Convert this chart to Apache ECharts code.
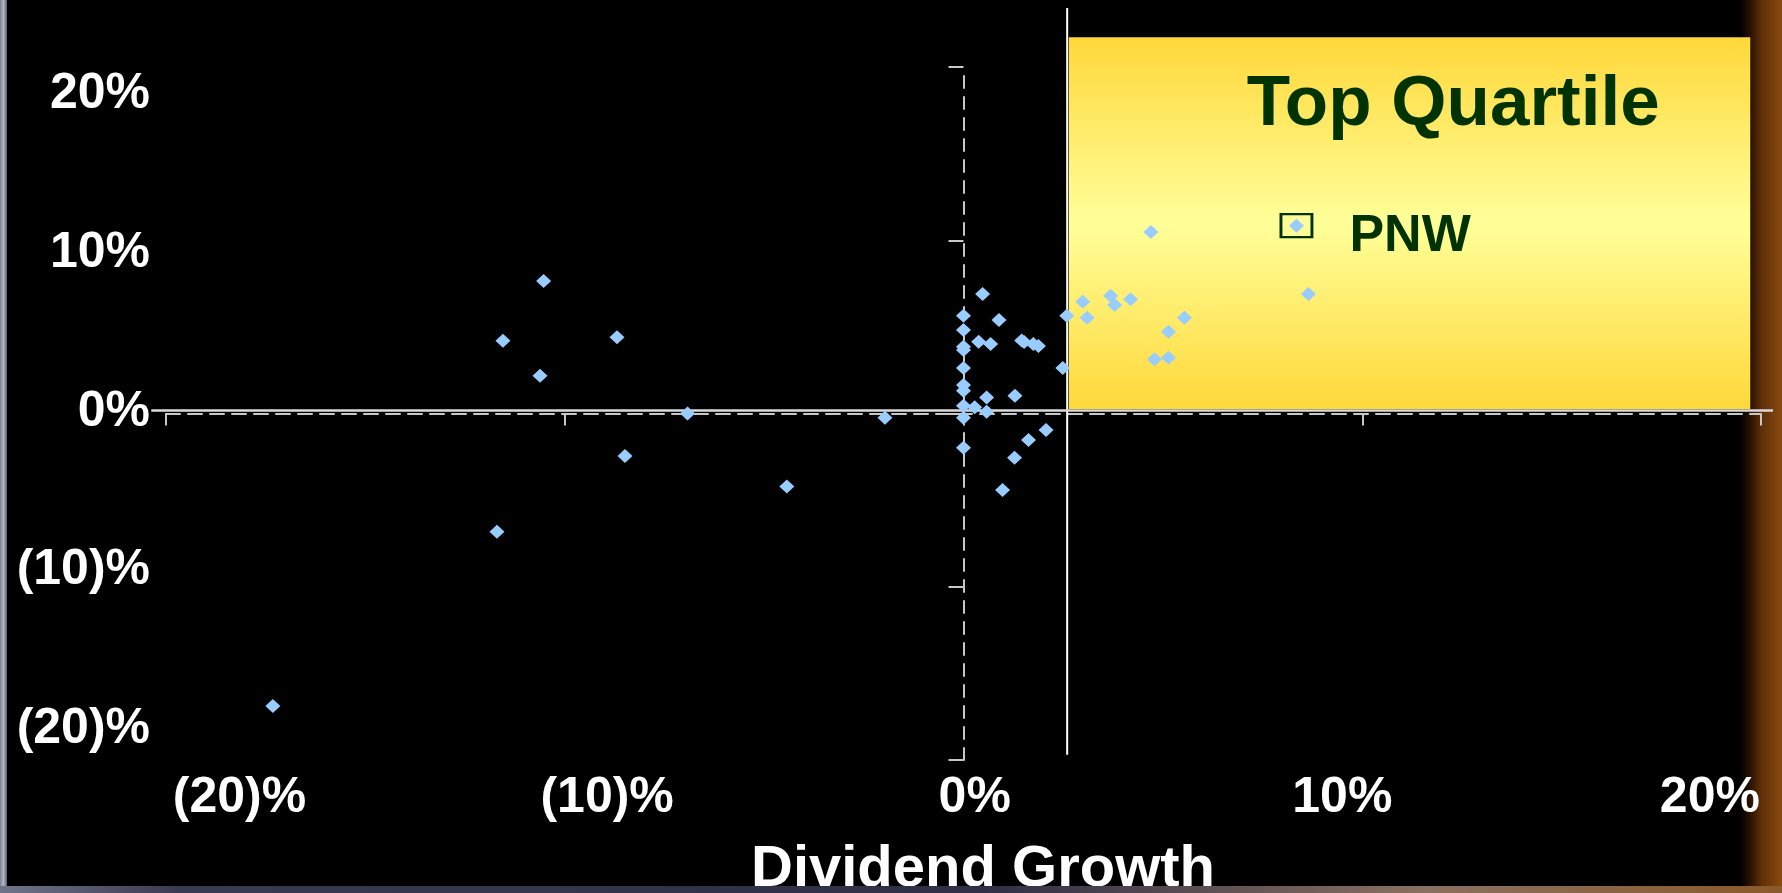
<!DOCTYPE html>
<html>
<head>
<meta charset="utf-8">
<script src="https://cdn.jsdelivr.net/npm/echarts@6/dist/echarts.min.js"></script>
<style>
html,body{margin:0;padding:0;background:#000;overflow:hidden;}
#chart{width:1782px;height:893px;}
</style>
</head>
<body>
<div id="chart"></div>
<script>
// ---------------- data ----------------
const xTickValues = [-20, -10, 0, 10, 20];
const xTickLabels = ['(20)%', '(10)%', '0%', '10%', '20%'];
const yTickValues = [-20, -10, 0, 10, 20];
const yTickLabels = ['(20)%', '(10)%', '0%', '10%', '20%'];

// Dividend growth (%) of each company
const dividendGrowth = [
  -10.53, -11.55, -10.62, -8.69, -6.92, -1.97, -8.49, -4.43, -11.70, -17.32,
  0.48, 0, 0, 0, 0, 0, 0, 0, 0, 0, 0,
  0.38, 0.68, 0.89, 1.46, 1.52, 1.75, 1.88, 2.49, 2.59, 2.99, 3.10, 3.69, 3.79, 4.19, 4.70, 5.54, 5.14, 4.79, 5.14, 8.35, 8.65,
  0.58, 1.29, 0.28, 0.58, 2.07, 1.63, 1.28, 0.98
];
// Vertical-axis metric (%) of each company
const yMetricValues = [
  7.65, 4.20, 2.18, 4.40, 0.00, -0.24, -2.45, -4.22, -6.82, -16.88,
  6.90, 5.64, 4.82, 3.85, 3.66, 2.63, 1.65, 1.32, 0.45, -0.24, -1.97,
  4.14, 4.01, 5.40, 4.22, 4.12, 4.01, 3.89, 2.63, 5.64, 6.45, 5.53, 6.80, 6.26, 6.59, 10.47, 5.53, 4.72, 3.13, 3.22, 10.84, 6.90,
  0.93, 1.03, 0.36, 0.10, -0.95, -1.53, -2.55, -4.41
];
const highlightName = 'PNW';
const highlightPoint = [8.35, 10.84];

// quartile thresholds and top-quartile zone (data units)
const quartileX = 2.6;
const quartileY = 0.17;
const quartileXLineSpan = [-19.7, 23.4];
const quartileYLineSpan = [-20.37, 20.3];
const topQuartileZone = [2.64, 0.26, 19.73, 21.72]; // x0, y0, x1, y1
const zoneTitle = 'Top Quartile';
const xAxisTitle = 'Dividend Growth';

// ---------------- chart ----------------
const FONT = "'Liberation Sans', Arial, Helvetica, sans-serif";
const GREEN = '#003300';
const AXIS_GREY = '#C8C8C8';
const chart = echarts.init(document.getElementById('chart'), null, {renderer: 'canvas', width: 1782, height: 893});
const points = dividendGrowth.map((x, i) => [x, yMetricValues[i]]);
const labelFor = (vals, labs) => v => {
  const i = vals.findIndex(t => Math.abs(t - v) < 1e-6);
  return i >= 0 ? labs[i] : '';
};

const option = {
  backgroundColor: '#000000',
  animation: false,
  grid: {left: 166, right: 21, top: 67, bottom: 133, outerBoundsMode: 'none', containLabel: false},
  xAxis: [
    {
      type: 'value', min: -20, max: 20, interval: 10,
      axisLine: {onZero: true, onZeroAxisIndex: 0, lineStyle: {color: AXIS_GREY, width: 2, type: [14, 8]}},
      axisTick: {show: true, length: 12, lineStyle: {color: AXIS_GREY, width: 2}},
      axisLabel: {show: false},
      splitLine: {show: false}
    },
    {
      type: 'value', min: -22.0, max: 21.39, position: 'bottom',
      axisLine: {show: false, onZero: false},
      axisTick: {show: false},
      splitLine: {show: false},
      axisLabel: {
        customValues: xTickValues,
        formatter: labelFor(xTickValues, xTickLabels),
        color: '#FFFFFF', fontFamily: FONT, fontWeight: 'bold', fontSize: 50, margin: 13
      },
      name: xAxisTitle, nameLocation: 'middle', nameGap: 81,
      nameTextStyle: {color: '#FFFFFF', fontFamily: FONT, fontWeight: 'bold', fontSize: 58, padding: [0, 0, 0, 39]}
    }
  ],
  yAxis: [
    {
      type: 'value', min: -20, max: 20, interval: 10,
      axisLine: {onZero: true, onZeroAxisIndex: 0, lineStyle: {color: AXIS_GREY, width: 2, type: [12, 9]}},
      axisTick: {show: true, length: 15, lineStyle: {color: AXIS_GREY, width: 2}},
      axisLabel: {show: false},
      splitLine: {show: false}
    },
    {
      type: 'value', min: -21.92, max: 21.72, position: 'left',
      axisLine: {show: false, onZero: false},
      axisTick: {show: false},
      splitLine: {show: false},
      axisLabel: {
        customValues: yTickValues,
        formatter: labelFor(yTickValues, yTickLabels),
        color: '#FFFFFF', fontFamily: FONT, fontWeight: 'bold', fontSize: 50, margin: 16
      }
    }
  ],
  series: [
    {
      name: 'Companies', type: 'scatter', xAxisIndex: 0, yAxisIndex: 0,
      data: points, symbol: 'diamond', symbolSize: [15, 14],
      itemStyle: {color: '#99CCFF', opacity: 1}, z: 5, silent: true
    },
    {
      name: highlightName, type: 'scatter', xAxisIndex: 0, yAxisIndex: 0,
      data: [highlightPoint], symbol: 'rect', symbolSize: [31, 23],
      itemStyle: {color: 'rgba(0,0,0,0)', borderColor: GREEN, borderWidth: 2.5, opacity: 1},
      label: {
        show: true, formatter: highlightName, position: 'right', distance: 36, offset: [0, 11],
        color: GREEN, opacity: 1, fontFamily: FONT, fontWeight: 'bold', fontSize: 52
      },
      z: 4, silent: true
    }
  ]
};
chart.setOption(option);

// zone and threshold lines, positioned through the chart's own scales
const px = (x, y) => chart.convertToPixel({xAxisIndex: 0, yAxisIndex: 0}, [x, y]);
const zTL = px(topQuartileZone[0], topQuartileZone[3]);
const zBR = px(topQuartileZone[2], topQuartileZone[1]);
const vTop = px(quartileX, quartileXLineSpan[1]);
const vBot = px(quartileX, quartileXLineSpan[0]);
const hL = px(quartileYLineSpan[0], quartileY);
const hR = px(quartileYLineSpan[1], quartileY);

const W = 1782, H = 893;
chart.setOption({
  graphic: [
    // slide frame decorations
    {type: 'rect', z: -10, shape: {x: 0, y: 0, width: 7, height: H},
      style: {fill: new echarts.graphic.LinearGradient(0, 0, 1, 0, [
        {offset: 0, color: '#7C8090'}, {offset: 0.5, color: '#B4B8C6'}, {offset: 1, color: '#5A5E6C'}])}},
    {type: 'rect', z: -10, shape: {x: 1740, y: 0, width: W - 1740, height: H},
      style: {fill: new echarts.graphic.LinearGradient(0, 0, 1, 0, [
        {offset: 0, color: '#000000'}, {offset: 0.25, color: '#2A1204'}, {offset: 0.5, color: '#5E2E08'}, {offset: 1, color: '#8A4A10'}])}},
    {type: 'rect', z: 100, shape: {x: 0, y: 886, width: W, height: H - 886},
      style: {fill: new echarts.graphic.LinearGradient(0, 0, 1, 0, [
        {offset: 0, color: '#70748A'}, {offset: 0.1, color: '#3A3A52'}, {offset: 0.55, color: '#2E2E46'},
        {offset: 0.8, color: '#8A7060'}, {offset: 1, color: '#8A5A2A'}])}},
    // top-quartile zone
    {type: 'rect', z: 1, shape: {x: zTL[0], y: zTL[1], width: zBR[0] - zTL[0], height: zBR[1] - zTL[1]},
      style: {fill: new echarts.graphic.LinearGradient(0, 0, 0, 1, [
        {offset: 0, color: '#FFD83A'}, {offset: 0.5, color: '#FFFF99'}, {offset: 1, color: '#FFD83A'}])}},
    // threshold lines
    {type: 'line', z: 2, shape: {x1: vTop[0], y1: vTop[1], x2: vBot[0], y2: vBot[1]},
      style: {stroke: '#FFFFFF', lineWidth: 2}},
    {type: 'line', z: 2, shape: {x1: hL[0], y1: hL[1], x2: hR[0], y2: hR[1]},
      style: {stroke: '#DADADA', lineWidth: 2.5}},
    // zone title
    {type: 'text', z: 3, style: {
      text: zoneTitle, x: zTL[0] + 178, y: 105,
      fill: GREEN, font: 'bold 71px ' + FONT, align: 'left', verticalAlign: 'middle'}}
  ]
});
</script>
</body>
</html>
